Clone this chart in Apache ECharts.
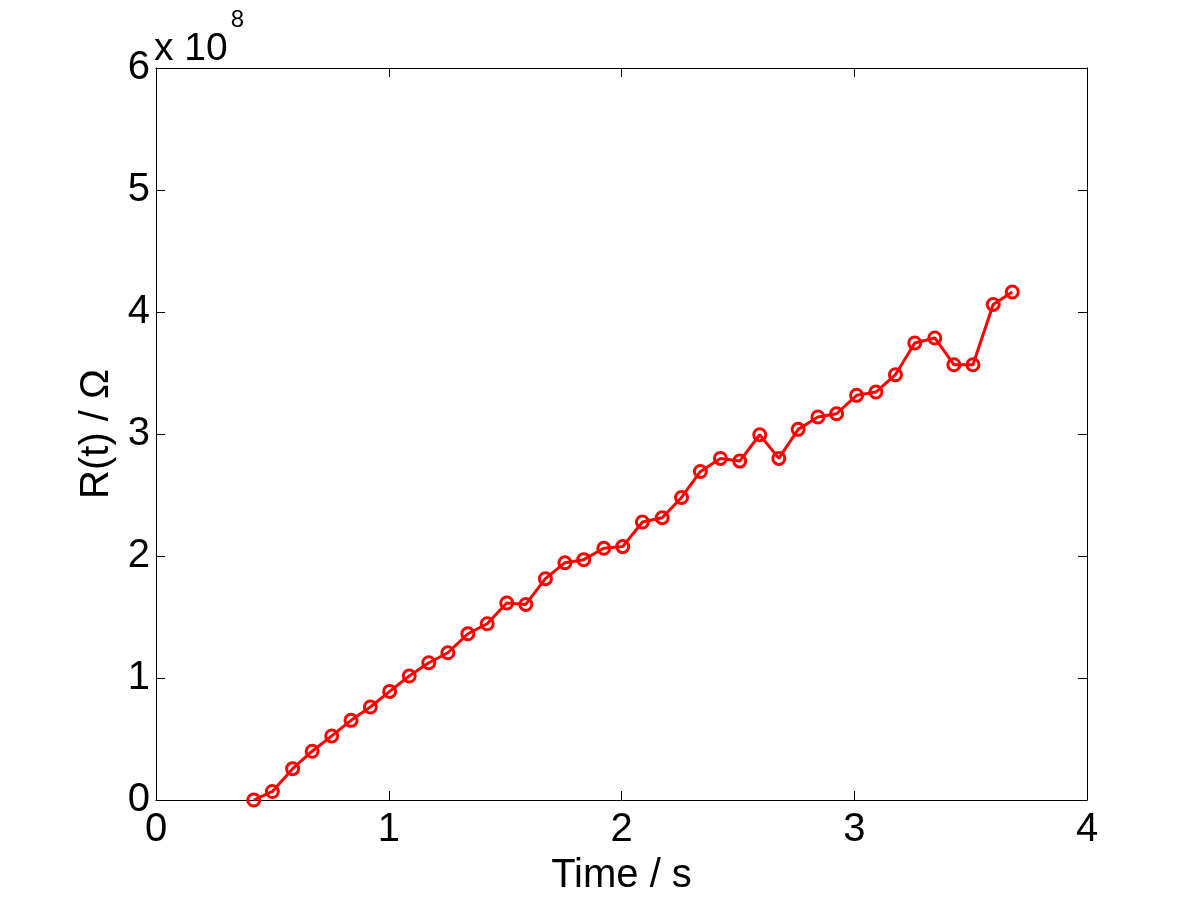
<!DOCTYPE html>
<html>
<head>
<meta charset="utf-8">
<script src="https://cdn.jsdelivr.net/npm/echarts@6/dist/echarts.min.js"></script>
<style>
  html, body { margin: 0; padding: 0; background: #fff; }
  #chart { width: 1201px; height: 901px; }
</style>
</head>
<body>
<div id="chart"></div>
<script>
// time (s)
var timeS = [0.42, 0.50, 0.587, 0.671, 0.755, 0.838, 0.921, 1.004, 1.088, 1.172,
  1.254, 1.34, 1.423, 1.507, 1.589, 1.673, 1.757, 1.838, 1.924, 2.005,
  2.09, 2.175, 2.258, 2.339, 2.425, 2.508, 2.594, 2.676, 2.759, 2.844,
  2.924, 3.01, 3.093, 3.177, 3.26, 3.346, 3.428, 3.51, 3.597, 3.679];
// R(t) in units of 10^8 ohm
var resistance = [0, 0.07, 0.257, 0.40, 0.525, 0.653, 0.762, 0.89, 1.016, 1.125,
  1.207, 1.363, 1.445, 1.615, 1.603, 1.814, 1.945, 1.97, 2.063, 2.077,
  2.279, 2.314, 2.48, 2.693, 2.80, 2.778, 2.994, 2.80, 3.038, 3.139,
  3.166, 3.317, 3.344, 3.486, 3.746, 3.787, 3.568, 3.568, 4.062, 4.164];
var xTicks = [0, 1, 2, 3, 4];
var yTicks = [0, 1, 2, 3, 4, 5, 6];

var font = 'Liberation Sans, Arial, sans-serif';
var points = timeS.map(function (t, i) { return [t, resistance[i]]; });

var chart = echarts.init(document.getElementById('chart'));

var axisLine = { show: true, onZero: false, lineStyle: { color: '#000', width: 1 } };
var tick = { show: true, inside: true, length: 9, lineStyle: { color: '#000', width: 1 } };

chart.setOption({
  backgroundColor: '#fff',
  animation: false,
  grid: { left: 156, right: 114, top: 68, bottom: 99 },
  graphic: [{
    type: 'text',
    left: 154,
    top: 8,
    style: {
      text: '{a|x 10}{b|8}',
      rich: {
        a: { fontFamily: font, fontSize: 39, fill: '#000', padding: [22, 0, 0, 0] },
        b: { fontFamily: font, fontSize: 24, fill: '#000', verticalAlign: 'top', padding: [0, 0, 0, 3] }
      }
    }
  }],
  xAxis: [{
    type: 'value',
    min: 0, max: 4, interval: 1,
    name: 'Time / s',
    nameLocation: 'middle',
    nameGap: 56,
    nameTextStyle: { fontFamily: font, fontSize: 40, color: '#000' },
    axisLine: axisLine,
    axisTick: tick,
    axisLabel: { fontFamily: font, fontSize: 40, color: '#000', margin: 10,
      formatter: function (v) { return xTicks.indexOf(v) >= 0 ? String(v) : ''; } },
    splitLine: { show: false }
  }, {
    type: 'value', position: 'top',
    min: 0, max: 4, interval: 1,
    axisLine: axisLine, axisTick: tick,
    axisLabel: { show: false }, splitLine: { show: false }
  }],
  yAxis: [{
    type: 'value',
    min: 0, max: 6, interval: 1,
    name: 'R(t) / Ω',
    nameLocation: 'middle',
    nameGap: 36,
    nameTextStyle: { fontFamily: font, fontSize: 40, color: '#000' },
    axisLine: axisLine,
    axisTick: tick,
    axisLabel: { fontFamily: font, fontSize: 40, color: '#000', margin: 6,
      formatter: function (v) { return yTicks.indexOf(v) >= 0 ? String(v) : ''; } },
    splitLine: { show: false }
  }, {
    type: 'value', position: 'right',
    min: 0, max: 6, interval: 1,
    axisLine: axisLine, axisTick: tick,
    axisLabel: { show: false }, splitLine: { show: false }
  }],
  series: [{
    type: 'line',
    data: points,
    symbol: 'circle',
    symbolSize: 12,
    lineStyle: { color: '#ff0000', width: 3 },
    itemStyle: { color: 'rgba(0,0,0,0)', borderColor: '#ff0000', borderWidth: 3 }
  }]
});
</script>
</body>
</html>
